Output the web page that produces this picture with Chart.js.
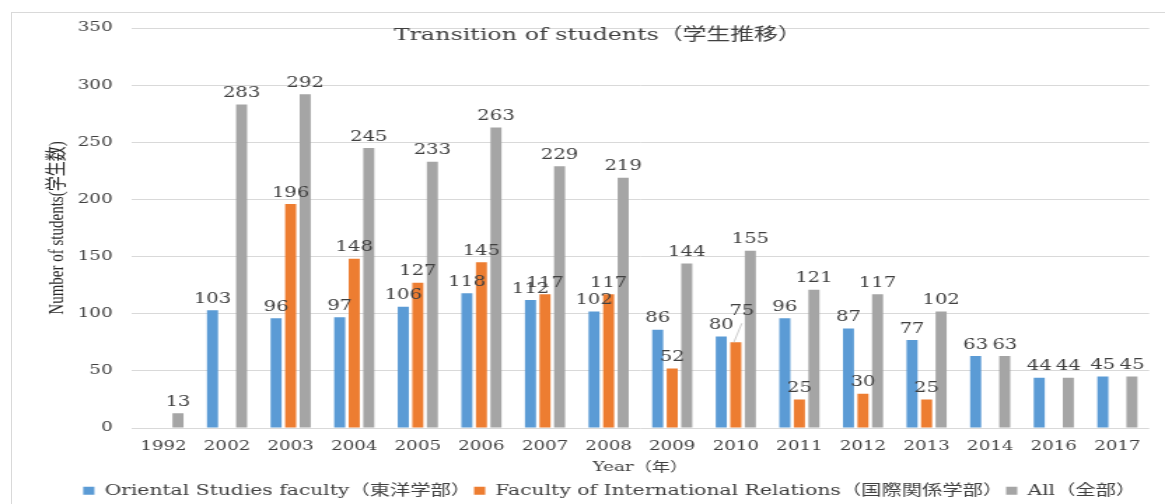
<!DOCTYPE html>
<html>
<head>
<meta charset="utf-8">
<script src="https://cdn.jsdelivr.net/npm/chart.js@4.4.1/dist/chart.umd.min.js"></script>
<style>
html,body{margin:0;padding:0;background:#fff;width:1165px;height:504px;overflow:hidden;}
#frame{position:absolute;left:11px;top:12px;width:1300px;height:700px;border-left:1px solid #d9d9d9;border-top:1px solid #d9d9d9;box-sizing:border-box;}
#wrap{position:absolute;left:0;top:0;width:832px;height:504px;transform:scaleX(1.40024);transform-origin:0 0;}
canvas{display:block;}
</style>
</head>
<body>
<div id="frame"></div>
<div id="wrap"><canvas id="c" width="832" height="504"></canvas></div>
<script>
// ---- data ----
const years = ['1992','2002','2003','2004','2005','2006','2007','2008','2009','2010','2011','2012','2013','2014','2016','2017'];
const orientalStudies = [null,103,96,97,106,118,112,102,86,80,96,87,77,63,44,45];
const internationalRelations = [null,null,196,148,127,145,117,117,52,75,25,30,25,null,null,null];
const allStudents = [13,283,292,245,233,263,229,219,144,155,121,117,102,63,44,45];
const seriesNames = ['Oriental Studies faculty（東洋学部）','Faculty of International Relations（国際関係学部）','All（全部）'];
const yTickMin = 0, yTickMax = 350, yTickStep = 50;
const chartTitle = 'Transition of students（学生推移）';
const xAxisTitle = 'Year（年）';
const yAxisTitle = 'Number of students(学生数)';

const FAM = '"DejaVu Serif", "Noto Sans CJK JP", serif';

const valueLabels = {
  id: 'valueLabels',
  afterDatasetsDraw(chart, args, opts) {
    const ctx = chart.ctx;
    ctx.save();
    ctx.font = opts.font;
    ctx.fillStyle = opts.color;
    ctx.textAlign = 'center';
    ctx.textBaseline = 'alphabetic';
    chart.data.datasets.forEach((ds, di) => {
      const meta = chart.getDatasetMeta(di);
      meta.data.forEach((bar, i) => {
        const v = ds.data[i];
        if (v === null || v === undefined) return;
        let x = bar.x, y = bar.y - opts.gap;
        const c = (opts.callouts || []).find(o => o.dataset === di && o.index === i);
        if (c) {
          ctx.strokeStyle = '#bfbfbf';
          ctx.lineWidth = 0.8;
          ctx.beginPath();
          ctx.moveTo(bar.x - 1.4, bar.y);
          ctx.lineTo(bar.x + c.lineDx, bar.y + c.lineDy);
          ctx.stroke();
          x += c.dx; y += c.dy;
        }
        ctx.fillText(String(v), x, y);
      });
    });
    ctx.restore();
  }
};

// shifts the bottom legend sideways to match the reference placement
const legendShift = {
  id: 'legendShift',
  afterLayout(chart, args, opts) {
    if (chart.legend) {
      chart.legend.left += opts.dx;
      chart.legend.right += opts.dx;
    }
  }
};

new Chart(document.getElementById('c'), {
  type: 'bar',
  data: {
    labels: years,
    datasets: [
      { label: seriesNames[0], data: orientalStudies, backgroundColor: '#5B9BD5', borderWidth: 0 },
      { label: seriesNames[1], data: internationalRelations, backgroundColor: '#ED7D31', borderWidth: 0 },
      { label: seriesNames[2], data: allStudents, backgroundColor: '#A5A5A5', borderWidth: 0 }
    ]
  },
  plugins: [valueLabels, legendShift],
  options: {
    responsive: false,
    animation: false,
    devicePixelRatio: 1,
    datasets: { bar: { categoryPercentage: 0.686, barPercentage: 0.76 } },
    layout: { padding: { left: 33, right: 11.3, top: 0, bottom: -4 } },
    font: { family: FAM },
    plugins: {
      tooltip: { enabled: false },
      title: {
        display: true,
        text: chartTitle,
        color: '#404040',
        font: { family: FAM, size: 17, weight: 'normal' },
        padding: { top: 25.3, bottom: -17.7 }
      },
      legend: {
        position: 'bottom',
        labels: {
          color: '#404040',
          font: { family: FAM, size: 14.5 },
          boxWidth: 8,
          boxHeight: 8,
          padding: 2
        }
      },
      legendShift: { dx: 8.6 },
      valueLabels: {
        font: '14px ' + FAM,
        color: '#404040',
        gap: 7.5,
        callouts: [{ dataset: 1, index: 9, dx: 4.3, dy: -19.7, lineDx: 4.3, lineDy: -19 }]
      }
    },
    scales: {
      x: {
        grid: { display: false, drawTicks: false },
        border: { display: false },
        ticks: { color: '#404040', font: { family: FAM, size: 13 }, padding: 10.5, maxRotation: 0, autoSkip: false },
        title: {
          display: true, text: xAxisTitle, color: '#404040',
          font: { family: FAM, size: 13 }, padding: { top: -4.7, bottom: 6 }
        }
      },
      y: {
        min: yTickMin, max: yTickMax,
        grid: { color: '#d9d9d9', lineWidth: 1, drawTicks: false },
        border: { display: false },
        ticks: { stepSize: yTickStep, color: '#404040', font: { family: FAM, size: 13 }, padding: 13.6 },
        title: {
          display: true, text: yAxisTitle, color: '#262626',
          font: { family: '"Liberation Serif", "Noto Sans CJK JP", serif', size: 15 },
          padding: { top: -0.7, bottom: -8.3 }
        }
      }
    }
  }
});
</script>
</body>
</html>
